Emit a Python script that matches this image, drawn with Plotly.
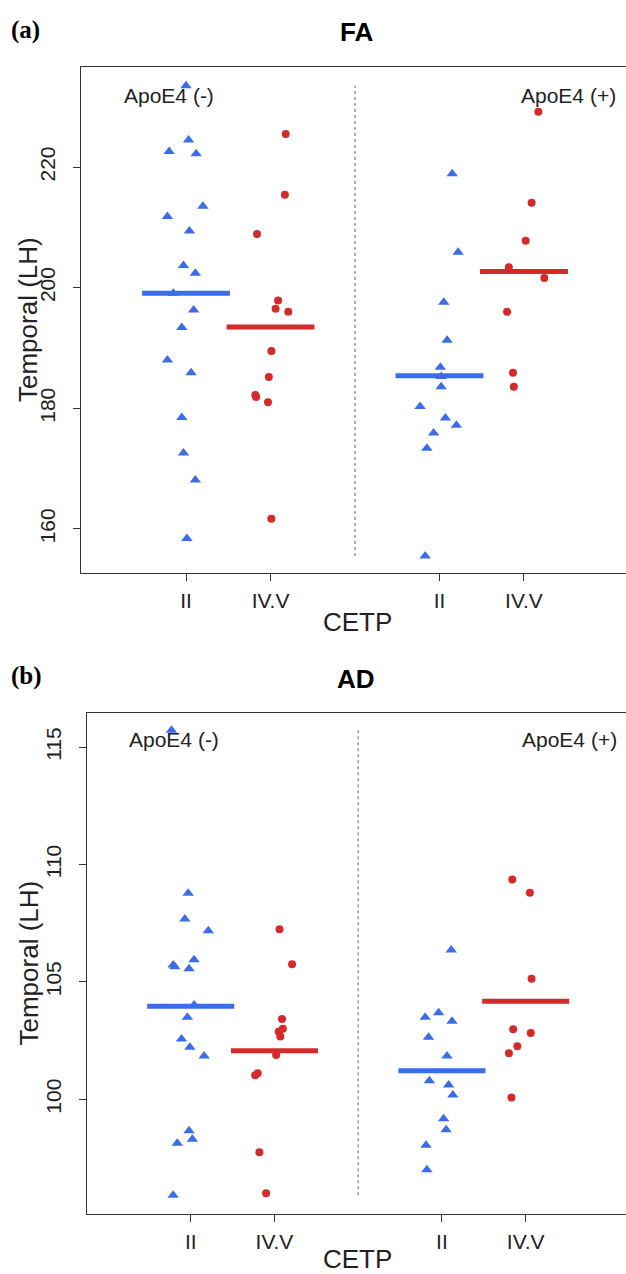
import numpy as np
import plotly.graph_objects as go

# ---------------- data ----------------
positions = [1, 2, 4, 5]
tick_labels = ["II", "IV.V", "II", "IV.V"]
group_labels = ["ApoE4 (-)", "ApoE4 (+)"]

# Panel (a) FA : Temporal (LH)
fa_ii_neg = [233.5, 224.5, 222.6, 222.2, 213.5, 211.8, 209.4, 203.7, 202.4, 199.1,
             196.3, 193.4, 188.0, 185.9, 178.5, 172.6, 168.1, 158.4]
fa_ii_neg_jit = [0.0, 0.03, -0.20, 0.12, 0.20, -0.22, 0.04, -0.03, 0.11, -0.15,
                 0.09, -0.05, -0.22, 0.06, -0.05, -0.03, 0.11, 0.01]
fa_ivv_neg = [225.5, 215.4, 208.9, 197.9, 196.5, 196.0, 189.5, 185.2, 182.2, 181.9, 181.0, 161.7]
fa_ivv_neg_jit = [0.18, 0.17, -0.16, 0.09, 0.06, 0.21, 0.01, -0.02, -0.18, -0.17, -0.03, 0.01]
fa_ii_pos = [218.9, 205.9, 197.6, 191.3, 186.8, 185.3, 183.6, 180.3, 178.4, 177.2, 175.9, 173.4, 155.5]
fa_ii_pos_jit = [0.15, 0.22, 0.05, 0.09, 0.01, 0.02, 0.02, -0.23, 0.07, 0.20, -0.07, -0.15, -0.17]
fa_ivv_pos = [229.2, 214.1, 207.8, 203.4, 201.6, 196.0, 185.9, 183.6]
fa_ivv_pos_jit = [0.17, 0.09, 0.02, -0.18, 0.24, -0.20, -0.13, -0.12]

# Panel (b) AD : Temporal (LH)
ad_ii_neg = [115.73, 108.78, 107.68, 107.18, 105.72, 105.65, 105.94, 105.56, 104.02, 103.49,
             102.57, 102.22, 101.84, 98.66, 98.30, 98.13, 95.91]
ad_ii_neg_jit = [-0.23, -0.03, -0.07, 0.21, -0.21, -0.19, 0.04, -0.02, 0.04, -0.04,
                 -0.11, -0.01, 0.16, -0.02, 0.02, -0.16, -0.21]
ad_ivv_neg = [107.24, 105.75, 103.42, 103.0, 102.88, 102.67, 101.89, 101.11, 101.02, 97.74, 95.99]
ad_ivv_neg_jit = [0.06, 0.21, 0.09, 0.10, 0.05, 0.07, 0.02, -0.20, -0.23, -0.18, -0.10]
ad_ii_pos = [106.36, 103.69, 103.49, 103.32, 102.64, 101.84, 100.79, 100.61, 100.18, 99.17, 98.70, 98.04, 97.0]
ad_ii_pos_jit = [0.11, -0.04, -0.20, 0.12, -0.16, 0.06, -0.15, 0.08, 0.13, 0.02, 0.05, -0.19, -0.18]
ad_ivv_pos = [109.36, 108.80, 105.14, 102.98, 102.82, 102.26, 101.96, 100.07]
ad_ivv_pos_jit = [-0.16, 0.05, 0.07, -0.15, 0.06, -0.10, -0.20, -0.17]

# ---------------- style ----------------
BLUE = "#3b6de8"
RED = "#d42a2a"
AXIS = "#333333"
FONT = "Liberation Sans, Arial, sans-serif"
W, H = 640, 1274   # figure slightly wider than the 626 px window: the plot box runs off the right edge

panels = [
    dict(name="FA", tag="(a)",
         groups=[(fa_ii_neg, fa_ii_neg_jit), (fa_ivv_neg, fa_ivv_neg_jit),
                 (fa_ii_pos, fa_ii_pos_jit), (fa_ivv_pos, fa_ivv_pos_jit)],
         box=(81, 67, 573), xrange=[-0.243, 6.373], yrange=[152.7, 236.6],
         yticks=[160, 180, 200, 220], title_y=32, tag_y=30, xlab_y=622,
         lab_y=231.8, lab_xl=0.80, lab_xr=5.53),
    dict(name="AD", tag="(b)",
         groups=[(ad_ii_neg, ad_ii_neg_jit), (ad_ivv_neg, ad_ivv_neg_jit),
                 (ad_ii_pos, ad_ii_pos_jit), (ad_ivv_pos, ad_ivv_pos_jit)],
         box=(87.3, 713, 1214), xrange=[-0.235, 6.365], yrange=[95.11, 116.46],
         yticks=[100, 105, 110, 115], title_y=679, tag_y=676, xlab_y=1259,
         lab_y=115.31, lab_xl=0.797, lab_xr=5.525),
]

fig = go.Figure()
annotations = []
layout_axes = {}

for i, p in enumerate(panels):
    k = "" if i == 0 else str(i + 1)
    xa, ya = "x" + k, "y" + k
    left, top, bottom = p["box"]
    colors = [BLUE, RED, BLUE, RED]
    symbols = ["triangle-up", "circle", "triangle-up", "circle"]
    sizes = [10, 8, 10, 8]
    all_vals = []
    for (vals, jit), pos, c, s, sz in zip(p["groups"], positions, colors, symbols, sizes):
        vals = np.array(vals)
        all_vals.extend(vals)
        fig.add_trace(go.Scatter(
            x=pos + np.array(jit), y=vals, mode="markers", xaxis=xa, yaxis=ya,
            marker=dict(symbol=s, size=sz, color=c, line=dict(width=0)),
            showlegend=False, hoverinfo="y"))
    # divider
    fig.add_trace(go.Scatter(
        x=[3, 3], y=[min(all_vals), max(all_vals)], mode="lines", xaxis=xa, yaxis=ya,
        line=dict(color="#9a9a9a", width=1.5, dash="dot"), showlegend=False, hoverinfo="skip"))
    # mean lines
    for (vals, jit), pos, c in zip(p["groups"], positions, colors):
        m = float(np.mean(vals))
        fig.add_trace(go.Scatter(
            x=[pos - 0.52, pos + 0.52], y=[m, m], mode="lines", xaxis=xa, yaxis=ya,
            line=dict(color=c, width=5), showlegend=False, hoverinfo="y"))

    layout_axes["xaxis" + k] = dict(
        domain=[left / W, 1.0], range=p["xrange"], anchor=ya,
        tickmode="array", tickvals=positions, ticktext=tick_labels,
        showline=True, linecolor=AXIS, linewidth=1, mirror=True,
        ticks="outside", ticklen=7, tickcolor=AXIS, ticklabelstandoff=2,
        showgrid=False, zeroline=False,
        tickfont=dict(family=FONT, size=21, color="#222222"))
    layout_axes["yaxis" + k] = dict(
        domain=[1 - bottom / H, 1 - top / H], range=p["yrange"], anchor=xa,
        tickmode="array", tickvals=p["yticks"], tickangle=-90,
        showline=True, linecolor=AXIS, linewidth=1, mirror=False,
        ticks="outside", ticklen=7, tickcolor=AXIS, ticklabelstandoff=10,
        showgrid=False, zeroline=False,
        tickfont=dict(family=FONT, size=21, color="#222222"))

    annotations += [
        dict(text="<b>" + p["tag"] + "</b>", x=9 / W, y=1 - p["tag_y"] / H, xref="paper", yref="paper",
             xanchor="left", yanchor="middle", showarrow=False,
             font=dict(family="Liberation Serif, Times New Roman, serif", size=25, color="black")),
        dict(text="<b>" + p["name"] + "</b>", x=356 / W, y=1 - p["title_y"] / H,
             xref="paper", yref="paper", xanchor="center", yanchor="middle", showarrow=False,
             font=dict(family=FONT, size=26, color="black")),
        dict(text="Temporal (LH)", x=28 / W, y=1 - (top + bottom) / 2 / H, xref="paper", yref="paper",
             xanchor="center", yanchor="middle", textangle=-90, showarrow=False,
             font=dict(family=FONT, size=26, color="#222222")),
        dict(text="CETP", x=357 / W, y=1 - p["xlab_y"] / H, xref="paper", yref="paper",
             xanchor="center", yanchor="middle", showarrow=False,
             font=dict(family=FONT, size=26, color="#222222")),
        dict(text=group_labels[0], x=p["lab_xl"], y=p["lab_y"], xref=xa, yref=ya,
             xanchor="center", yanchor="middle", showarrow=False,
             font=dict(family=FONT, size=21, color="#222222")),
        dict(text=group_labels[1], x=p["lab_xr"], y=p["lab_y"], xref=xa, yref=ya,
             xanchor="center", yanchor="middle", showarrow=False,
             font=dict(family=FONT, size=21, color="#222222")),
    ]

fig.update_layout(
    width=W, height=H, margin=dict(l=0, r=0, t=0, b=0),
    paper_bgcolor="white", plot_bgcolor="white",
    annotations=annotations, **layout_axes)

fig.write_html("out.html", config={"displayModeBar": False},
               post_script="document.body.style.margin='0';document.body.style.overflow='hidden';")
